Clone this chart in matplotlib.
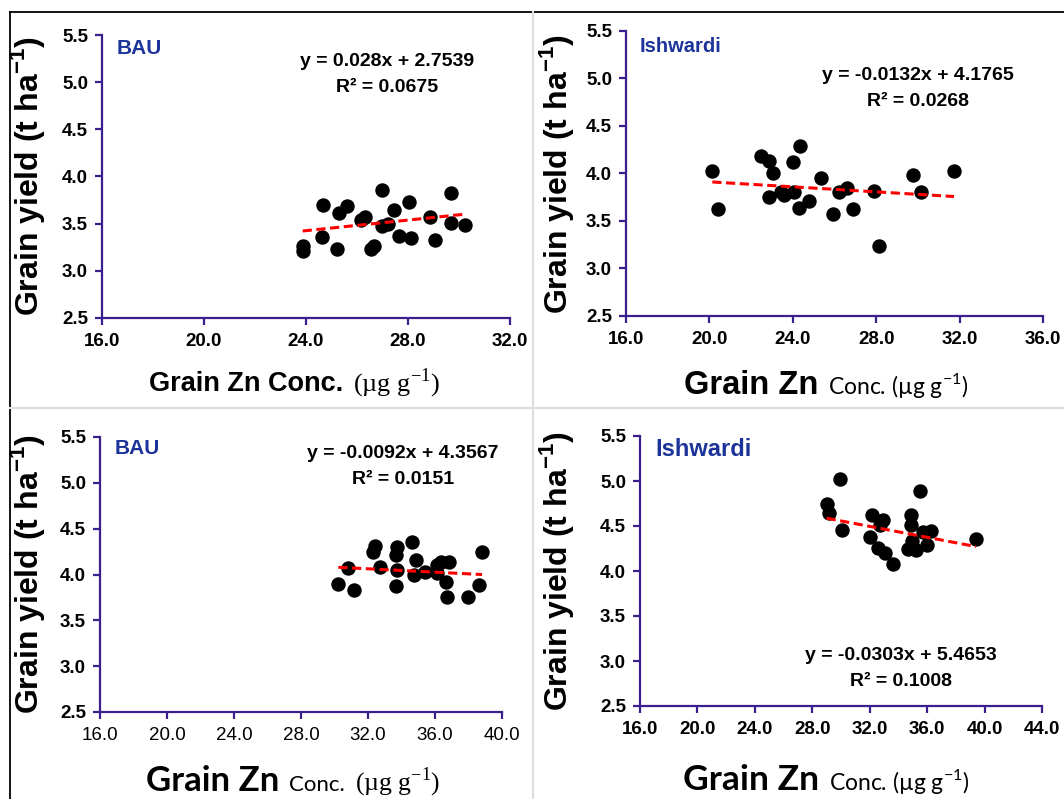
import matplotlib
matplotlib.use("Agg")
import matplotlib.pyplot as plt
import numpy as np
from matplotlib.offsetbox import TextArea, HPacker, AnchoredOffsetbox
from matplotlib.lines import Line2D

# ---------------- data ----------------
tl_x = [23.87, 23.90, 24.68, 24.61, 25.31, 25.62, 25.22, 26.14, 26.33, 26.53, 26.68, 27.00,
        26.98, 27.20, 27.46, 27.65, 28.04, 28.13, 28.85, 29.07, 29.67, 29.67, 30.25]
tl_y = [3.26, 3.21, 3.70, 3.36, 3.61, 3.69, 3.23, 3.54, 3.57, 3.23, 3.26, 3.86,
        3.47, 3.50, 3.64, 3.37, 3.73, 3.35, 3.57, 3.33, 3.82, 3.51, 3.49]

tr_x = [20.14, 20.40, 22.46, 22.86, 23.03, 22.87, 23.43, 23.59, 24.06, 24.02, 24.36, 24.30,
        24.78, 25.34, 25.91, 26.23, 26.58, 26.87, 27.91, 28.12, 29.75, 30.13, 31.73]
tr_y = [4.03, 3.63, 4.18, 4.13, 4.01, 3.75, 3.81, 3.77, 3.80, 4.12, 4.29, 3.64,
        3.71, 3.95, 3.57, 3.80, 3.85, 3.63, 3.82, 3.24, 3.98, 3.80, 4.03]

bl_x = [30.23, 30.82, 31.16, 32.28, 32.42, 32.72, 33.67, 33.73, 33.71, 33.69, 34.65, 34.87,
        34.73, 35.40, 36.10, 36.10, 36.34, 36.82, 36.66, 36.74, 37.97, 38.61, 38.81]
bl_y = [3.90, 4.07, 3.83, 4.25, 4.31, 4.08, 4.21, 4.30, 4.05, 3.88, 4.36, 4.16,
        4.00, 4.03, 4.02, 4.10, 4.14, 4.14, 3.92, 3.75, 3.75, 3.89, 4.25]

br_x = [29.00, 29.18, 30.05, 32.16, 32.90, 32.71, 32.02, 32.60, 33.06, 33.64, 34.85, 34.85,
        34.92, 34.68, 35.22, 35.50, 35.73, 36.24, 35.96, 39.40, 29.90]
br_y = [4.74, 4.65, 4.46, 4.62, 4.57, 4.51, 4.38, 4.26, 4.20, 4.08, 4.62, 4.51,
        4.33, 4.24, 4.23, 4.89, 4.43, 4.44, 4.29, 4.36, 5.02]

slopes = [0.028, -0.0132, -0.0092, -0.0303]
intercepts = [2.7539, 4.1765, 4.3567, 5.4653]
eq_texts = ["y = 0.028x + 2.7539", "y = -0.0132x + 4.1765",
            "y = -0.0092x + 4.3567", "y = -0.0303x + 5.4653"]
r2_texts = ["R\u00b2 = 0.0675", "R\u00b2 = 0.0268", "R\u00b2 = 0.0151", "R\u00b2 = 0.1008"]
site_names = ["BAU", "Ishwardi", "BAU", "Ishwardi"]
xmax_list = [32, 36, 40, 44]
y_ticks = [2.5, 3.0, 3.5, 4.0, 4.5, 5.0, 5.5]

# ---------------- figure ----------------
W, H = 1064, 799
fig = plt.figure(figsize=(W / 100, H / 100), dpi=100)
fig.patch.set_facecolor("white")

def fx(px):
    return px / W

def fy(py):
    return 1 - py / H

AXC = "#3b1f8c"
SANS = "Liberation Sans"
SERIF = "Liberation Serif"
CAL = "Lato"
BLUE = "#1c3399"

# axes rectangles in pixel coords (x0, x1, ytop, ybottom)
rects = [(102, 510, 35, 318), (626, 1043, 31, 316), (100, 502, 437, 712), (640, 1042, 436, 706)]
xs = [tl_x, tr_x, bl_x, br_x]
ys = [tl_y, tr_y, bl_y, br_y]
xtick_bold = [True, True, False, True]

axes = []
for i, (x0, x1, yt, yb) in enumerate(rects):
    ax = fig.add_axes([fx(x0), fy(yb), (x1 - x0) / W, (yb - yt) / H])
    ax.set_xlim(16, xmax_list[i])
    ax.set_ylim(2.5, 5.5)
    ax.set_xticks(np.arange(16, xmax_list[i] + 0.1, 4))
    ax.set_yticks(y_ticks)
    ax.xaxis.set_major_formatter(matplotlib.ticker.FormatStrFormatter("%.1f"))
    ax.yaxis.set_major_formatter(matplotlib.ticker.FormatStrFormatter("%.1f"))
    for s in ["top", "right"]:
        ax.spines[s].set_visible(False)
    for s in ["left", "bottom"]:
        ax.spines[s].set_color(AXC)
        ax.spines[s].set_linewidth(1.6)
    ax.tick_params(axis="both", direction="out", color=AXC, width=1.6, length=5,
                   labelsize=13.5)
    ax.tick_params(axis="x", pad=6)
    ax.tick_params(axis="y", pad=5)
    for lab in ax.get_yticklabels():
        lab.set_fontfamily(SANS)
        lab.set_fontweight("bold")
    for lab in ax.get_xticklabels():
        lab.set_fontfamily(SANS)
        lab.set_fontweight("bold" if xtick_bold[i] else "normal")
    ax.set_facecolor("none")
    # points
    ax.scatter(xs[i], ys[i], s=88, color="black", zorder=3, clip_on=False)
    # trend line
    lx = np.array([min(xs[i]), max(xs[i])])
    ax.plot(lx, slopes[i] * lx + intercepts[i], color="red", lw=2.2,
            linestyle=(0, (3, 1.5)), zorder=4)
    axes.append(ax)

# ---- site names ----
site_pos = [(117, 48, 15), (640, 47, 14.5), (115, 449, 15), (655, 449, 17)]
for name, (px, py, fs) in zip(site_names, site_pos):
    fig.text(fx(px), fy(py), name, color=BLUE, fontsize=fs, fontweight="bold",
             fontfamily=SANS, ha="left", va="center")

# ---- equations ----
eq_pos = [(387, 62), (918, 76), (403, 453), (901, 656)]
for (px, py), e, r in zip(eq_pos, eq_texts, r2_texts):
    fig.text(fx(px), fy(py), e, fontsize=14, fontweight="bold", fontfamily=SANS,
             ha="center", va="center")
    fig.text(fx(px), fy(py + 26), r, fontsize=14, fontweight="bold", fontfamily=SANS,
             ha="center", va="center")

# ---- y labels ----
ylab = r"Grain yield (t ha$^{\mathregular{-1}}$)"
for px, py in [(28, 176), (556, 174), (28, 574), (556, 571)]:
    fig.text(fx(px), fy(py), ylab, rotation=90, fontsize=23, fontweight="bold",
             fontfamily=SANS, ha="center", va="center")

# ---- x labels with mixed fonts ----
sup = r"$^{\mathregular{-1}}$"
xlab_parts = [
    [("Grain Zn Conc.", SANS, "bold", 19.5), ("(\u00b5g g" + sup + ")", SERIF, "normal", 19)],
    [("Grain Zn", SANS, "bold", 23.5), ("Conc. (\u00b5g g" + sup + ")", CAL, "normal", 16.5)],
    [("Grain Zn", CAL, "bold", 25), ("Conc.", CAL, "normal", 16), ("(\u00b5g g" + sup + ")", SERIF, "normal", 18.5)],
    [("Grain Zn", CAL, "bold", 25.5), ("Conc. (\u00b5g g" + sup + ")", CAL, "normal", 16.5)],
]
xlab_pos = [(295, 383), (826, 386), (293, 782), (826, 780)]
for parts, (px, py) in zip(xlab_parts, xlab_pos):
    children = [TextArea(t, textprops=dict(fontfamily=f, fontweight=w, fontsize=s))
                for t, f, w, s in parts]
    box = HPacker(children=children, align="baseline", pad=0, sep=7)
    anch = AnchoredOffsetbox(loc="center", child=box, pad=0, borderpad=0, frameon=False,
                             bbox_to_anchor=(fx(px), fy(py)),
                             bbox_transform=fig.transFigure)
    fig.add_artist(anch)

# ---- borders / dividers ----
fig.add_artist(Line2D([fx(10), fx(10)], [fy(12), fy(799)], color="black", lw=1.3,
                      transform=fig.transFigure))
fig.add_artist(Line2D([fx(10), fx(1064)], [fy(12), fy(12)], color="black", lw=1.3,
                      transform=fig.transFigure))
fig.add_artist(Line2D([fx(533), fx(533)], [fy(12), fy(799)], color="#dddddd", lw=1.5,
                      transform=fig.transFigure))
fig.add_artist(Line2D([fx(10), fx(1064)], [fy(408), fy(408)], color="#dddddd", lw=1.5,
                      transform=fig.transFigure))

fig.savefig("out.png", dpi=100)
